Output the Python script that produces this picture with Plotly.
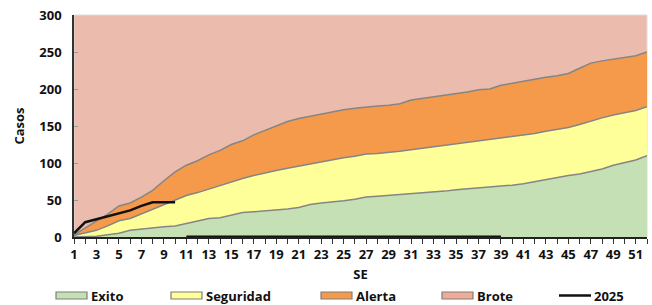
import plotly.graph_objects as go

semanas = list(range(1, 53))
exito = [0, 0, 1, 3, 5, 9, 11, 13, 14, 15, 18, 22, 25, 26, 30, 33, 34, 35, 36, 38,
         40, 44, 46, 47, 49, 51, 54, 55, 56, 57, 58, 59, 60, 62, 64, 65, 66, 68, 69, 70,
         72, 75, 78, 80, 83, 85, 88, 92, 97, 100, 104, 110]
seguridad = [2, 5, 9, 15, 22, 25, 31, 37, 44, 50, 56, 60, 65, 69, 75, 79, 83, 87, 90, 93,
             96, 99, 102, 105, 107, 109, 112, 113, 114, 116, 118, 120, 122, 124, 126, 127, 129, 131, 133, 135,
             137, 140, 143, 145, 148, 152, 157, 161, 165, 168, 171, 176]
alerta = [3, 12, 21, 31, 42, 46, 54, 63, 76, 88, 97, 103, 111, 117, 125, 130, 138, 144, 151, 156,
          160, 163, 167, 170, 172, 174, 176, 177, 178, 180, 185, 187, 190, 192, 194, 196, 199, 200, 205, 208,
          211, 213, 216, 218, 221, 228, 235, 238, 240, 243, 245, 250]
semanas_2025 = list(range(1, 11))
casos_2025 = [5, 20, 24, 28, 32, 36, 42, 47, 47, 47]
semanas_2025_sin = list(range(11, 40))
casos_2025_sin = [0] * len(semanas_2025_sin)

C_EXITO = "#c5e0b4"
C_SEG = "#ffff99"
C_ALERTA = "#f59a4a"
C_BROTE = "#ebbcae"
C_BROTE_LEG = "#f0ac98"
EDGE = "#858585"
FONT = "Open Sans"

fig = go.Figure()
fig.add_trace(go.Scatter(x=semanas, y=exito, mode="lines", fill="tozeroy",
                         fillcolor=C_EXITO, line=dict(color=EDGE, width=1.5), name="Exito"))
fig.add_trace(go.Scatter(x=semanas, y=seguridad, mode="lines", fill="tonexty",
                         fillcolor=C_SEG, line=dict(color=EDGE, width=1.5), name="Seguridad"))
fig.add_trace(go.Scatter(x=semanas, y=alerta, mode="lines", fill="tonexty",
                         fillcolor=C_ALERTA, line=dict(color=EDGE, width=1.5), name="Alerta"))
fig.add_trace(go.Scatter(x=semanas_2025, y=casos_2025, mode="lines",
                         line=dict(color="#111111", width=2.5), name="2025"))
fig.add_trace(go.Scatter(x=semanas_2025_sin, y=casos_2025_sin, mode="lines",
                         line=dict(color="#111111", width=3), showlegend=False, cliponaxis=False))

W, H = 652, 305
ML, MR, MT, MB = 74, 5, 15, 68
PW, PH = W - ML - MR, H - MT - MB

def px(x):
    return (x - ML) / PW

def py(y):
    return (H - MB - y) / PH

shapes = [dict(type="rect", xref="paper", yref="paper", x0=0, x1=1, y0=0, y1=1,
               line=dict(color="#dcdcdc", width=1), layer="below")]
annotations = []
legend_items = [("Exito", C_EXITO, 56, "rect"), ("Seguridad", C_SEG, 171, "rect"),
                ("Alerta", C_ALERTA, 321, "rect"), ("Brote", C_BROTE_LEG, 442, "rect"),
                ("2025", "#111111", 559, "line")]
LEG_Y = 295.5
for name, col, x0, kind in legend_items:
    if kind == "rect":
        shapes.append(dict(type="rect", xref="paper", yref="paper",
                           x0=px(x0), x1=px(x0 + 31), y0=py(LEG_Y + 3.5), y1=py(LEG_Y - 3.5),
                           fillcolor=col, line=dict(color="#7f7f7f", width=1.2)))
    else:
        shapes.append(dict(type="line", xref="paper", yref="paper",
                           x0=px(x0), x1=px(x0 + 32), y0=py(LEG_Y), y1=py(LEG_Y),
                           line=dict(color=col, width=2.5)))
    annotations.append(dict(text=name, xref="paper", yref="paper", x=px(x0 + 33), y=py(LEG_Y),
                            xanchor="left", yanchor="middle", showarrow=False,
                            font=dict(family=FONT, size=13, color="#111111", weight="bold")))

fig.update_layout(
    width=W, height=H, margin=dict(l=ML, r=MR, t=MT, b=MB),
    paper_bgcolor="white", plot_bgcolor=C_BROTE,
    showlegend=False, shapes=shapes, annotations=annotations,
    font=dict(family=FONT, size=13, color="#111111", weight="bold"),
)
fig.update_xaxes(range=[1, 52], tickvals=list(range(1, 52, 2)), ticks="outside", ticklen=5,
                 tickcolor="#333333", tickwidth=1, showgrid=False, zeroline=False,
                 showline=True, linecolor="#222222", linewidth=1.5,
                 minor=dict(dtick=1, tick0=0, ticks="outside", ticklen=5, tickcolor="#333333", showgrid=False),
                 tickfont=dict(family=FONT, size=13, weight="bold"),
                 title=dict(text="SE", standoff=8, font=dict(family=FONT, size=13, weight="bold")))
fig.update_yaxes(range=[0, 300], dtick=50, ticks="inside", ticklen=4, tickcolor="#999999",
                 showgrid=False, zeroline=False, showline=True, linecolor="#333333", linewidth=1.5,
                 ticklabelstandoff=8,
                 tickfont=dict(family=FONT, size=13, weight="bold"),
                 title=dict(text="Casos", standoff=12, font=dict(family=FONT, size=13, weight="bold")))

fig.write_html("out.html", config={"displayModeBar": False},
               post_script="document.body.style.margin='0';document.body.style.overflow='hidden';")
